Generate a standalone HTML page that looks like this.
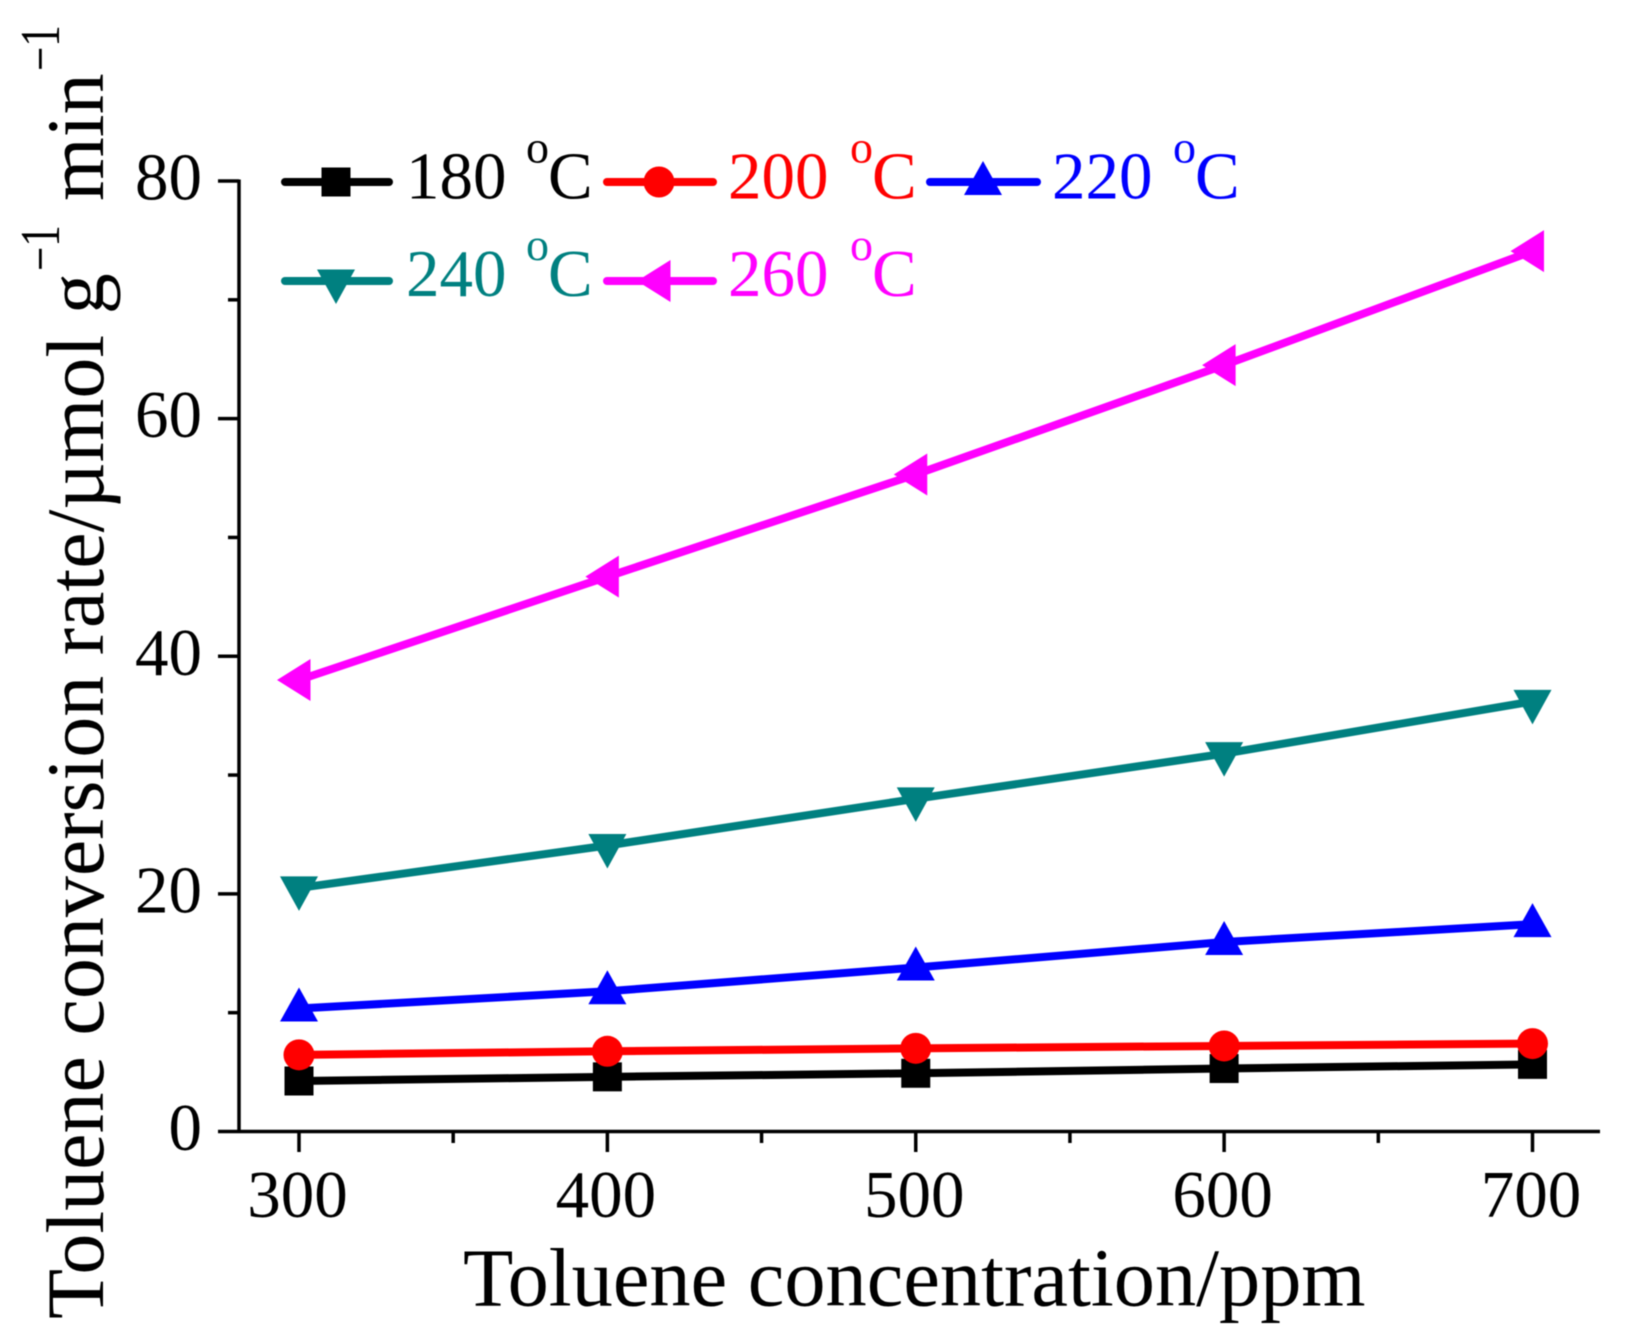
<!DOCTYPE html>
<html lang="en">
<head>
<meta charset="utf-8">
<title>Toluene conversion rate vs concentration</title>
<style>
html,body{margin:0;padding:0;background:#fff;}
svg{display:block;filter:blur(0.5px);}
text{font-family:"Liberation Serif","Times New Roman",serif;}
</style>
</head>
<body>
<svg id="chart" xmlns="http://www.w3.org/2000/svg" width="1634" height="1344" viewBox="0 0 1634 1344">
  <rect x="0" y="0" width="1634" height="1344" fill="#fff"/>
  <g id="axes"></g>
  <g id="series"></g>
  <text x="463" y="1305.5" font-size="82.4" fill="#000">Toluene concentration/ppm</text>
  <g fill="#000">
    <text transform="translate(103 1319) rotate(-90)" font-size="82">Toluene conversion rate/µmol g</text>
    <text transform="translate(59 271) rotate(-90) scale(0.88 1.15)" font-size="49">−1</text>
    <text transform="translate(103 201) rotate(-90)" font-size="82">min</text>
    <text transform="translate(59 71) rotate(-90) scale(0.88 1.15)" font-size="49">−1</text>
  </g>
  <g id="legend"></g>
</svg>
<script>
const concentrations = [300, 400, 500, 600, 700];
const rate180 = [4.25, 4.6, 4.9, 5.3, 5.65];
const rate200 = [6.45, 6.75, 7.0, 7.2, 7.4];
const rate220 = [10.35, 11.8, 13.8, 15.95, 17.45];
const rate240 = [20.5, 24.07, 28.0, 31.8, 36.2];
const rate260 = [38.0, 46.7, 55.3, 64.5, 74.1];
const seriesLabels = ['180', '200', '220', '240', '260'];
const xMajorTicks = [300, 400, 500, 600, 700];
const xMinorTicks = [350, 450, 550, 650];
const yMajorTicks = [0, 20, 40, 60, 80];
const yMinorTicks = [10, 30, 50, 70];

const NS = 'http://www.w3.org/2000/svg';
const xScale = function (v) { return 299 + (v - 300) * (1532.5 - 299) / 400; };
const yScale = function (v) { return 1131.5 - v * (1131.5 - 181) / 80; };

function make(tag, attrs, parent) {
  const el = document.createElementNS(NS, tag);
  Object.keys(attrs).forEach(function (k) { el.setAttribute(k, attrs[k]); });
  parent.appendChild(el);
  return el;
}

function drawMarker(shape, cx, cy, color, parent) {
  if (shape === 'square') {
    return make('rect', { x: cx - 14.5, y: cy - 14.5, width: 29, height: 29, fill: color }, parent);
  }
  if (shape === 'circle') {
    return make('circle', { cx: cx, cy: cy, r: 15.5, fill: color }, parent);
  }
  let pts;
  if (shape === 'up') {
    pts = [[cx, cy - 21], [cx + 19, cy + 13], [cx - 19, cy + 13]];
  } else if (shape === 'down') {
    pts = [[cx, cy + 23], [cx + 19, cy - 11.5], [cx - 19, cy - 11.5]];
  } else {
    pts = [[cx - 22, cy], [cx + 11.5, cy - 21], [cx + 11.5, cy + 21]];
  }
  return make('polygon', { points: pts.map(function (p) { return p.join(','); }).join(' '), fill: color }, parent);
}

const axes = document.getElementById('axes');
const seriesGroup = document.getElementById('series');
const legend = document.getElementById('legend');

const yAxisLine = make('line', { x1: 239, y1: 179.5, x2: 239, y2: 1133, stroke: '#000', 'stroke-width': 3.5 }, axes);


const xAxisLine = make('line', { x1: 218, y1: 1131.5, x2: 1600, y2: 1131.5, stroke: '#000', 'stroke-width': 3.5 }, axes);



yMajorTicks.forEach(function (v) {
  const y = yScale(v);
  if (v !== 0) {
    const tick = make('line', { x1: 218, y1: y, x2: 239, y2: y, stroke: '#000', 'stroke-width': 3.5 }, axes);
    
    
  }
  const label = make('text', { x: 202, y: y + 18.5, 'text-anchor': 'end', 'font-size': 67, fill: '#000' }, axes);
  
  
  label.textContent = String(v);
});
yMinorTicks.forEach(function (v) {
  const y = yScale(v);
  const tick = make('line', { x1: 228, y1: y, x2: 239, y2: y, stroke: '#000', 'stroke-width': 3.5 }, axes);
  
  
});
xMajorTicks.forEach(function (v) {
  const x = xScale(v);
  const tick = make('line', { x1: x, y1: 1131.5, x2: x, y2: 1152, stroke: '#000', 'stroke-width': 3.5 }, axes);
  
  
  const label = make('text', { x: x - 1.5, y: 1217, 'text-anchor': 'middle', 'font-size': 67, fill: '#000' }, axes);
  
  
  label.textContent = String(v);
});
xMinorTicks.forEach(function (v) {
  const x = xScale(v);
  const tick = make('line', { x1: x, y1: 1131.5, x2: x, y2: 1143, stroke: '#000', 'stroke-width': 3.5 }, axes);
  
  
});

const seriesValues = [rate180, rate200, rate220, rate240, rate260];
const seriesColors = ['#000000', '#ff0000', '#0000ff', '#008080', '#ff00ff'];
const seriesShapes = ['square', 'circle', 'up', 'down', 'left'];

seriesValues.forEach(function (values, s) {
  const group = make('g', {}, seriesGroup);
  
  
  const line = make('polyline', {
    points: values.map(function (v, i) { return xScale(concentrations[i]) + ',' + yScale(v); }).join(' '),
    fill: 'none', stroke: seriesColors[s], 'stroke-width': 8
  }, group);
  
  
  values.forEach(function (v, i) {
    const marker = drawMarker(seriesShapes[s], xScale(concentrations[i]), yScale(v), seriesColors[s], group);
    
    
  });
});

const legendSlots = [
  { lx1: 285, lx2: 389, mx: 336, ly: 182, num: 406, deg: 526, c: 548, base: 198.5 },
  { lx1: 607, lx2: 713, mx: 659, ly: 182, num: 728, deg: 850, c: 872, base: 198.5 },
  { lx1: 930, lx2: 1037, mx: 983, ly: 182, num: 1052, deg: 1173, c: 1195, base: 198.5 },
  { lx1: 285, lx2: 389, mx: 336, ly: 281, num: 406, deg: 526, c: 548, base: 296 },
  { lx1: 607, lx2: 713, mx: 659, ly: 281, num: 728, deg: 850, c: 872, base: 296 }
];

legendSlots.forEach(function (slot, s) {
  const entry = make('g', { fill: seriesColors[s] }, legend);
  
  
  const swatch = make('line', {
    x1: slot.lx1, y1: slot.ly, x2: slot.lx2, y2: slot.ly,
    stroke: seriesColors[s], 'stroke-width': 8, 'stroke-linecap': 'round'
  }, entry);
  
  
  const mark = drawMarker(seriesShapes[s], slot.mx, slot.ly, seriesColors[s], entry);
  
  
  const num = make('text', { x: slot.num, y: slot.base, 'font-size': 67 }, entry);
  
  
  num.textContent = seriesLabels[s];
  const deg = make('text', { x: slot.deg, y: slot.base - 36, 'font-size': 46 }, entry);
  
  
  deg.textContent = 'o';
  const unit = make('text', { x: slot.c, y: slot.base, 'font-size': 67 }, entry);
  
  
  unit.textContent = 'C';
});
</script>
</body>
</html>
